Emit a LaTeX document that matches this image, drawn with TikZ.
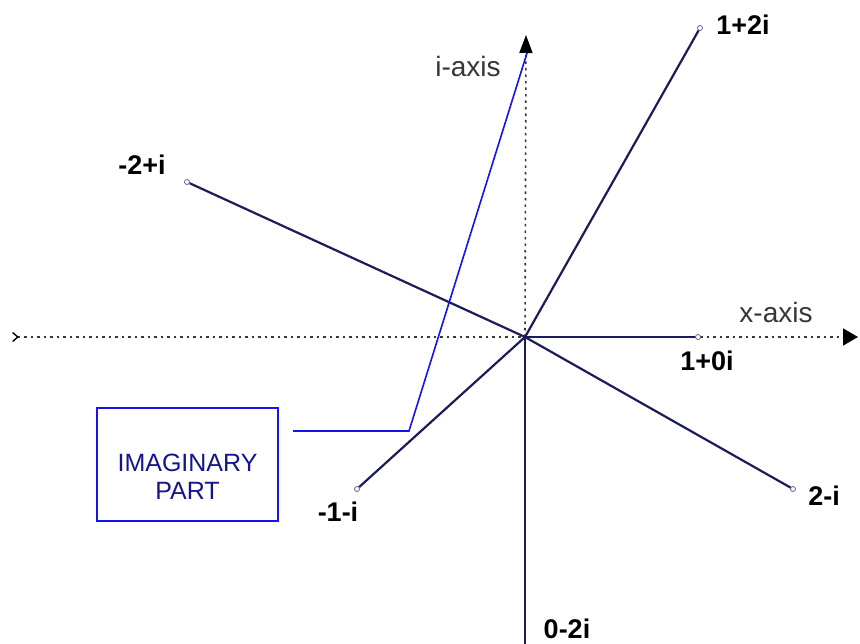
\documentclass[tikz,border=0pt]{standalone}
\usepackage{fontspec}
\setmainfont{Liberation Sans}
\usetikzlibrary{arrows.meta}
\definecolor{vecnavy}{RGB}{28,28,92}
\definecolor{callblue}{RGB}{20,20,235}
\definecolor{textnavy}{RGB}{20,20,140}
\definecolor{axisgray}{RGB}{55,55,55}
\begin{document}
\begin{tikzpicture}[x=1pt,y=-1pt,
  vec/.style={draw=vecnavy, line width=2.2pt},
  endpt/.style={circle, draw=vecnavy!70, fill=white, line width=0.8pt, inner sep=0pt, minimum size=5pt},
  axis/.style={draw=axisgray, line width=1.6pt, dash pattern=on 2.5pt off 4pt},
  lbl/.style={font=\fontsize{27}{30}\selectfont\bfseries, text=black, inner sep=0pt},
  axlbl/.style={font=\fontsize{28}{30}\selectfont, text=axisgray, inner sep=0pt},
  callout/.style={draw=callblue, line width=1.6pt}]
\useasboundingbox (0,0) rectangle (860,644);
\fill[white] (0,0) rectangle (860,644);

\coordinate (o) at (525,337);
\coordinate (xleft) at (12,337);
\coordinate (xright) at (858,337);
\coordinate (itop) at (526,35);

% axes
\draw[axis, {Straight Barb[reversed,length=5pt,width=9pt,line width=1.4pt,color=black]}-{Triangle[length=15pt,width=17pt,color=black]}] (xleft) -- (xright);
\draw[axis, -{Triangle[length=18pt,width=13pt,color=black]}] (o) -- (itop);
\node[axlbl] (ilbl) at (468,66) {i-axis};
\node[axlbl] (xlbl) at (776,312) {x-axis};

% vectors
\node[endpt] (p12) at (700,28) {};
\node[endpt] (pm2) at (187,182) {};
\node[endpt] (p10) at (698,337) {};
\node[endpt] (p2m) at (793,489) {};
\node[endpt] (pm1) at (357,489) {};
\coordinate (p02) at (525,644);

\draw[vec] (o) -- (p12);
\draw[vec] (o) -- (pm2);
\draw[vec] (o) -- (p10);
\draw[vec] (o) -- (p2m);
\draw[vec] (o) -- (pm1);
\draw[vec] (o) -- (p02);

\node[lbl] (l12) at (743,25) {1+2i};
\node[lbl] (lm2) at (142,165) {-2+i};
\node[lbl] (l10) at (707,361) {1+0i};
\node[lbl] (l2m) at (824,496) {2-i};
\node[lbl] (lm1) at (338,512) {-1-i};
\node[lbl] (l02) at (567,629) {0-2i};

% callout
\node[draw=callblue, line width=1.6pt, minimum width=181pt, minimum height=113pt, inner sep=0pt] (box) at (187.5,464.5) {};
\node[font=\fontsize{25}{28}\selectfont, text=textnavy, align=center, inner sep=0pt] (boxtext) at (187.5,477) {IMAGINARY\\PART};
\coordinate (cstart) at (293,431);
\coordinate (cbend) at (409,431);
\coordinate (cend) at (527,53);
\draw[callout] (cstart) -- (cbend) -- (cend);
\end{tikzpicture}
\end{document}
